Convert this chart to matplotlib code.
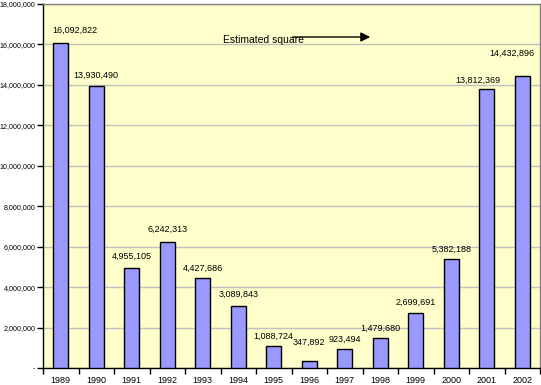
import matplotlib.pyplot as plt
import numpy as np

years = ['1989', '1990', '1991', '1992', '1993', '1994', '1995', '1996',
         '1997', '1998', '1999', '2000', '2001', '2002']
values = [16092822, 13930490, 4955105, 6242313, 4427686, 3089843, 1088724,
          347892, 923494, 1479680, 2699691, 5382188, 13812369, 14432896]

# label placement tweaks (pixels) to mimic the original
label_dy = [12, 11, 11, 12, 10, 11, 10, 19, 10, 10, 11, 10, 8, 23]
label_dx = [14, 0, 0, 0, 0, 0, 0, 0, 0, 0, 0, 0, -9, -10]

px = 72 / 100.0
fam = ['Liberation Sans', 'DejaVu Sans']

fig = plt.figure(figsize=(5.41, 3.85), dpi=100)
fig.patch.set_facecolor('white')
ax = fig.add_axes([43 / 541, 1 - 368 / 385, 497 / 541, 364 / 385])
ax.set_facecolor('#FFFFCC')

x = np.arange(len(years))
ax.bar(x, values, width=0.42, color='#9999FF', edgecolor='black', linewidth=1.0, zorder=3)

for i, v in enumerate(values):
    ax.annotate(f'{v:,}', (x[i], v), xytext=(label_dx[i] * px, label_dy[i] * px),
                textcoords='offset points', ha='center', va='center',
                fontsize=6.5, family=fam, zorder=4)

ax.set_xlim(-0.5, len(years) - 0.5)
ax.set_ylim(0, 18000000)
yt = np.arange(0, 18000001, 2000000)
ax.set_yticks(yt)
ax.set_yticklabels(['-'] + [f'{t:,}' for t in yt[1:]], fontsize=5.1, family=fam)
ax.yaxis.grid(True, color='#C0C0C0', linewidth=1.0, zorder=0)
ax.set_axisbelow(True)

ax.set_xticks(x)
ax.set_xticklabels(years, fontsize=6.5, family=fam)
ax.tick_params(axis='x', length=0, pad=6)
ax.set_xticks(np.arange(-0.5, len(years), 1.0), minor=True)
ax.tick_params(axis='x', which='minor', length=4, width=1, color='black', direction='out')
ax.tick_params(axis='y', length=4, width=1, color='black', direction='out', pad=1.5)

for side in ['top', 'right']:
    ax.spines[side].set_color('#808080')
    ax.spines[side].set_linewidth(1.0)
for side in ['left', 'bottom']:
    ax.spines[side].set_color('black')
    ax.spines[side].set_linewidth(1.0)

# annotation: estimated square with arrow
ax.text(223, 385 - 40, 'Estimated square', transform=None, fontsize=7.5,
        family=fam, va='center', ha='left', zorder=5)
ax.annotate('', xy=(373, 385 - 37), xytext=(290, 385 - 37), xycoords='figure pixels',
            arrowprops=dict(arrowstyle='-|>', color='black', lw=1.0, mutation_scale=14), zorder=5)

fig.savefig('out.png', dpi=100)
